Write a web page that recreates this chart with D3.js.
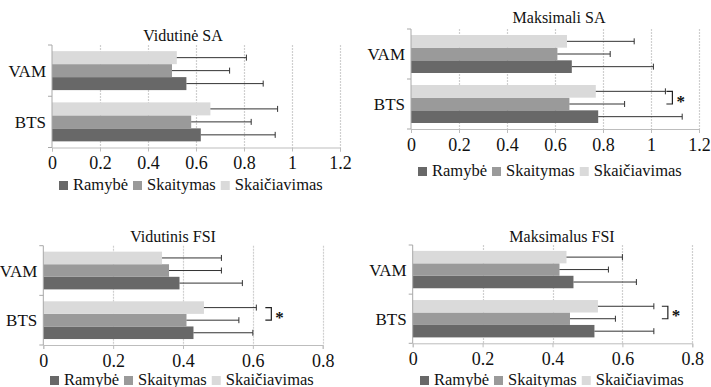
<!DOCTYPE html>
<html>
<head>
<meta charset="utf-8">
<script src="https://cdn.jsdelivr.net/npm/d3@7"></script>
<style>
  body { margin: 0; background: #fff; }
  svg { display: block; }
  svg text { font-family: "Liberation Serif", "Times New Roman", serif; }
</style>
</head>
<body>
<svg id="chart" width="711" height="387"></svg>
<script>
// data
var categories = ["VAM", "BTS"];
var seriesNames = ["Ramybė", "Skaitymas", "Skaičiavimas"];
var titles = ["Vidutinė SA", "Maksimali SA", "Vidutinis FSI", "Maksimalus FSI"];

// rows = categories, cols = series (Ramybė, Skaitymas, Skaičiavimas)
var vidSAMean = [[0.56, 0.50, 0.52], [0.62, 0.58, 0.66]];
var vidSASd   = [[0.32, 0.24, 0.29], [0.31, 0.25, 0.28]];
var maxSAMean = [[0.67, 0.61, 0.65], [0.78, 0.66, 0.77]];
var maxSASd   = [[0.34, 0.22, 0.28], [0.35, 0.23, 0.29]];
var vidFSIMean = [[0.39, 0.36, 0.34], [0.43, 0.41, 0.46]];
var vidFSISd   = [[0.18, 0.15, 0.17], [0.17, 0.15, 0.15]];
var maxFSIMean = [[0.46, 0.42, 0.44], [0.52, 0.45, 0.53]];
var maxFSISd   = [[0.18, 0.14, 0.16], [0.17, 0.13, 0.16]];

var ticksSA = [0, 0.2, 0.4, 0.6, 0.8, 1, 1.2];
var ticksFSI = [0, 0.2, 0.4, 0.6, 0.8];

// significant pair (category, series a, series b), null = none
var sigSA1 = null;
var sigSA2 = ["BTS", "Skaičiavimas", "Skaitymas"];
var sigFSI1 = ["BTS", "Skaičiavimas", "Skaitymas"];
var sigFSI2 = ["BTS", "Skaičiavimas", "Skaitymas"];

var colors = d3.scaleOrdinal().domain(seriesNames).range(["#686868", "#9a9a9a", "#dadada"]);
var FONT = "'Liberation Serif', 'Times New Roman', serif";

var panels = [
  {title: titles[0], mean: vidSAMean, sd: vidSASd, ticks: ticksSA, sig: sigSA1,
   left: 52, right: 340, top: 45, bottom: 147.5, titleX: 183, titleY: 41, legX: 59, legY: 180, gap: 1},
  {title: titles[1], mean: maxSAMean, sd: maxSASd, ticks: ticksSA, sig: sigSA2,
   left: 411, right: 699, top: 29, bottom: 129, titleX: 559, titleY: 23, legX: 418, legY: 166, gap: 1},
  {title: titles[2], mean: vidFSIMean, sd: vidFSISd, ticks: ticksFSI, sig: sigFSI1,
   left: 43.3, right: 322.7, top: 245.7, bottom: 345, titleX: 173, titleY: 242, legX: 50, legY: 375, gap: 9},
  {title: titles[3], mean: maxFSIMean, sd: maxFSISd, ticks: ticksFSI, sig: sigFSI2,
   left: 412.7, right: 692.3, top: 245, bottom: 343.3, titleX: 562, titleY: 242, legX: 420, legY: 375, gap: 8}
];

var svg = d3.select("#chart");

panels.forEach(function(p) {
  var g = svg.append("g");
  var tmax = p.ticks[p.ticks.length - 1];
  var x = d3.scaleLinear().domain([0, tmax]).range([p.left, p.right]);
  var y0 = d3.scaleBand().domain(categories).range([p.top, p.bottom])
    .paddingInner(0.24).paddingOuter(0.12);
  var barOrder = seriesNames.slice().reverse();
  var y1 = d3.scaleBand().domain(barOrder).range([0, y0.bandwidth()]);

  // grid
  g.selectAll(".grid").data(p.ticks.slice(1)).enter().append("line")
    .attr("x1", function(d) { return Math.round(x(d)) + 0.5; })
    .attr("x2", function(d) { return Math.round(x(d)) + 0.5; })
    .attr("y1", p.top).attr("y2", p.bottom)
    .attr("stroke", "#cfcfcf").attr("stroke-width", 1.2)
    .attr("stroke-dasharray", "2,1");

  // bars
  var rows = [];
  categories.forEach(function(c, ci) {
    seriesNames.forEach(function(s, si) {
      rows.push({cat: c, ser: s, v: p.mean[ci][si], sd: p.sd[ci][si]});
    });
  });
  g.selectAll(".bar").data(rows).enter().append("rect")
    .attr("x", x(0))
    .attr("y", function(d) { return y0(d.cat) + y1(d.ser); })
    .attr("width", function(d) { return x(d.v) - x(0); })
    .attr("height", y1.bandwidth())
    .attr("fill", function(d) { return colors(d.ser); });

  // error bars
  var eb = g.selectAll(".err").data(rows).enter().append("g");
  eb.append("line")
    .attr("x1", function(d) { return x(d.v); })
    .attr("x2", function(d) { return x(d.v + d.sd); })
    .attr("y1", function(d) { return y0(d.cat) + y1(d.ser) + y1.bandwidth() / 2; })
    .attr("y2", function(d) { return y0(d.cat) + y1(d.ser) + y1.bandwidth() / 2; })
    .attr("stroke", "#333").attr("stroke-width", 1);
  eb.append("line")
    .attr("x1", function(d) { return x(d.v + d.sd); })
    .attr("x2", function(d) { return x(d.v + d.sd); })
    .attr("y1", function(d) { return y0(d.cat) + y1(d.ser) + y1.bandwidth() / 2 - 3; })
    .attr("y2", function(d) { return y0(d.cat) + y1(d.ser) + y1.bandwidth() / 2 + 3; })
    .attr("stroke", "#333").attr("stroke-width", 1);

  // bottom axis
  var ax = g.append("g").attr("transform", "translate(0," + p.bottom + ")")
    .call(d3.axisBottom(x).tickValues(p.ticks).tickSize(4).tickPadding(5)
      .tickFormat(function(d) { return String(+d.toFixed(1)); }));
  ax.attr("font-family", FONT).attr("font-size", 18);
  ax.select(".domain").attr("stroke", "#bdbdbd");
  ax.selectAll(".tick line").attr("stroke", "#bdbdbd");
  ax.selectAll("text").attr("fill", "#111").style("font-family", FONT).style("font-size", "18px");

  // left axis
  g.append("line").attr("x1", p.left).attr("x2", p.left).attr("y1", p.top).attr("y2", p.bottom)
    .attr("stroke", "#a8a8a8");
  var edges = [p.top, (p.top + p.bottom) / 2, p.bottom];
  g.selectAll(".ytick").data(edges).enter().append("line")
    .attr("x1", p.left - 4).attr("x2", p.left)
    .attr("y1", function(d) { return d; }).attr("y2", function(d) { return d; })
    .attr("stroke", "#a8a8a8");
  g.selectAll(".cat").data(categories).enter().append("text")
    .attr("x", p.left - 6)
    .attr("y", function(d) { return y0(d) + y0.bandwidth() / 2 + 6; })
    .attr("text-anchor", "end").style("font-family", FONT).style("font-size", "17px")
    .attr("fill", "#111")
    .text(function(d) { return d; });

  // title
  g.append("text").attr("x", p.titleX).attr("y", p.titleY)
    .attr("text-anchor", "middle").style("font-family", FONT).style("font-size", "16px")
    .attr("fill", "#111")
    .text(p.title);

  // legend
  var lx = p.legX;
  seriesNames.forEach(function(s) {
    g.append("rect").attr("x", lx).attr("y", p.legY + 1).attr("width", 9).attr("height", 9)
      .attr("fill", colors(s));
    var t = g.append("text").attr("x", lx + 14).attr("y", p.legY + 9.5)
      .style("font-family", FONT).style("font-size", "16.5px").attr("fill", "#111").text(s);
    lx += 14 + t.node().getComputedTextLength() + 5;
  });

  // significance bracket
  if (p.sig) {
    var ci = categories.indexOf(p.sig[0]);
    var ya = y0(p.sig[0]) + y1(p.sig[1]) + y1.bandwidth() / 2;
    var yb = y0(p.sig[0]) + y1(p.sig[2]) + y1.bandwidth() / 2;
    var ia = seriesNames.indexOf(p.sig[1]), ib = seriesNames.indexOf(p.sig[2]);
    var reach = Math.max(p.mean[ci][ia] + p.sd[ci][ia], p.mean[ci][ib] + p.sd[ci][ib]);
    var bx = x(reach) + p.gap;
    g.append("path")
      .attr("d", "M" + bx + "," + ya + "H" + (bx + 6) + "V" + yb + "H" + bx)
      .attr("fill", "none").attr("stroke", "#222").attr("stroke-width", 1.2);
    g.append("text").attr("x", bx + 10).attr("y", (ya + yb) / 2 + 9)
      .style("font-family", FONT).style("font-size", "17px").attr("font-weight", "bold")
      .attr("fill", "#111").text("*");
  }
});
</script>
</body>
</html>
